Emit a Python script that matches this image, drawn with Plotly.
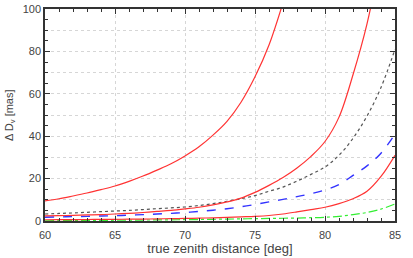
import plotly.graph_objects as go

zenith = [60, 61, 62, 63, 64, 65, 66, 67, 68, 69, 70, 71, 72, 73, 74, 75, 76, 77, 78, 79, 80, 81, 82, 83, 84, 85]

red_top_x = [60, 61, 62, 63, 64, 65, 66, 67, 68, 69, 70, 71, 72, 73, 74, 75, 76, 77]
red_top = [9.5, 10.5, 11.8, 13.2, 14.8, 16.5, 18.7, 21.2, 24.0, 27.0, 30.7, 35.0, 40.5, 47.0, 56.0, 68.0, 83.0, 103.0]

red_mid_x = [60, 61, 62, 63, 64, 65, 66, 67, 68, 69, 70, 71, 72, 73, 74, 75, 76, 77, 78, 79, 80, 81, 82, 83, 84]
red_mid = [2.4, 2.5, 2.7, 2.85, 3.0, 3.3, 3.6, 4.0, 4.5, 5.0, 5.7, 6.5, 7.6, 9.0, 10.8, 13.5, 16.8, 20.5, 25.0, 30.5, 37.5, 49.0, 69.0, 93.0, 125.0]

dotted = [3.3, 3.55, 3.8, 4.1, 4.4, 4.7, 5.0, 5.4, 5.8, 6.2, 6.6, 7.3, 8.2, 9.3, 10.5, 12.0, 14.0, 16.0, 18.8, 22.0, 25.5, 31.0, 39.0, 49.5, 63.0, 81.0]

blue_dashed = [1.8, 1.9, 2.05, 2.2, 2.35, 2.5, 2.75, 3.0, 3.3, 3.6, 4.0, 4.5, 5.1, 5.8, 6.7, 7.8, 9.0, 10.2, 11.5, 12.9, 14.6, 17.2, 21.5, 26.0, 32.0, 41.0]

red_low = [0.6, 0.62, 0.65, 0.7, 0.75, 0.8, 0.85, 0.9, 1.0, 1.1, 1.2, 1.35, 1.5, 1.7, 1.95, 2.2, 2.6, 3.3, 4.3, 5.4, 6.5, 8.2, 10.5, 14.0, 21.0, 31.0]

green_dashdot = [0.1, 0.15, 0.2, 0.25, 0.3, 0.35, 0.4, 0.45, 0.5, 0.55, 0.65, 0.7, 0.8, 0.9, 1.0, 1.1, 1.2, 1.3, 1.4, 1.55, 1.75, 2.2, 3.0, 4.0, 5.6, 8.0]

y_tickvals = [0, 20, 40, 60, 80, 100]
y_ticktext = ["0", "20", "40", "60", "80", "100"]
x_tickvals = [60, 65, 70, 75, 80, 85]
x_ticktext = ["60", "65", "70", "75", "80", "85"]

FONT = "Liberation Sans, Arial, sans-serif"
TXT = "#444444"
RED = "#ff3333"

fig = go.Figure()
fig.add_trace(go.Scatter(x=zenith, y=green_dashdot, mode="lines",
                         line=dict(color="#33ee33", width=1.2, dash="dashdot", shape="spline")))
fig.add_trace(go.Scatter(x=zenith, y=red_low, mode="lines",
                         line=dict(color=RED, width=1.2, shape="spline")))
fig.add_trace(go.Scatter(x=zenith, y=blue_dashed, mode="lines",
                         line=dict(color="#3333ff", width=1.4, dash="dash", shape="spline")))
fig.add_trace(go.Scatter(x=zenith, y=dotted, mode="lines",
                         line=dict(color="#555555", width=1.2, dash="dot", shape="spline")))
fig.add_trace(go.Scatter(x=red_mid_x, y=red_mid, mode="lines",
                         line=dict(color=RED, width=1.2, shape="spline")))
fig.add_trace(go.Scatter(x=red_top_x, y=red_top, mode="lines",
                         line=dict(color=RED, width=1.2, shape="spline")))

axis_common = dict(
    showline=True, linecolor="#333333", linewidth=1.5, mirror="ticks",
    ticks="inside", ticklen=5, tickcolor="#333333", tickwidth=1,
    showgrid=True, gridcolor="#d6d6d6", griddash="dot", gridwidth=1,
    zeroline=False, automargin=False,
    tickfont=dict(family=FONT, size=11, color=TXT),
)

fig.update_xaxes(range=[60, 85], tickmode="array", tickvals=x_tickvals, ticktext=x_ticktext,
                 ticklabelstandoff=3,
                 minor=dict(dtick=1, ticks="inside", ticklen=3, tickcolor="#333333", showgrid=False),
                 title=dict(text="true zenith distance [deg]", standoff=4,
                            font=dict(family=FONT, size=13, color=TXT)),
                 **axis_common)
fig.update_yaxes(range=[0, 100], tickmode="array", tickvals=y_tickvals, ticktext=y_ticktext,
                 minor=dict(dtick=10, tick0=0, ticks="inside", ticklen=3, tickcolor="#333333",
                            showgrid=True, gridcolor="#d6d6d6", griddash="dot", gridwidth=1),
                 **axis_common)

# y-axis title placed as a rotated annotation in the left margin
fig.add_annotation(text="Δ D<sub>v</sub> [mas]", xref="paper", yref="paper", x=0, y=0.5,
                   xanchor="center", yanchor="middle", xshift=-35, textangle=-90, showarrow=False,
                   font=dict(family=FONT, size=11, color=TXT))

# secondary overlaid axis carrying the 5-unit minor ticks only
fig.update_layout(
    yaxis2=dict(overlaying="y", side="left", range=[0, 100], tickmode="linear", tick0=0, dtick=5,
                ticks="inside", ticklen=3, tickcolor="#333333", showticklabels=False,
                showgrid=False, zeroline=False, showline=False, mirror="ticks", automargin=False),
)
fig.add_trace(go.Scatter(x=[None], y=[None], yaxis="y2", showlegend=False, hoverinfo="skip"))

fig.update_layout(
    width=413, height=258,
    margin=dict(l=45, r=18, t=9, b=37),
    paper_bgcolor="white", plot_bgcolor="white",
    showlegend=False,
)

fig.write_html("out.html", config={"displayModeBar": False},
               post_script="document.body.style.margin='0px';document.body.style.padding='0px';")
